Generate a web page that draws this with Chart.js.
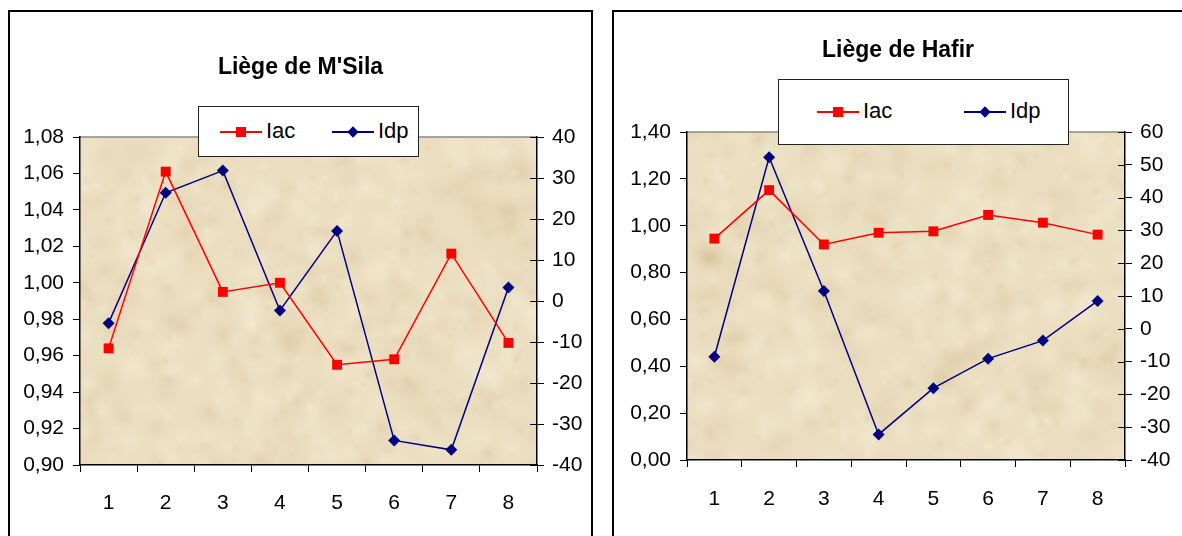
<!DOCTYPE html>
<html lang="fr">
<head>
<meta charset="UTF-8">
<title>Liège de M'Sila / Liège de Hafir</title>
<script src="https://cdn.jsdelivr.net/npm/chart.js@4"></script>
<style>
  body { margin: 0; background: #fff; width: 1182px; height: 536px; overflow: hidden; position: relative;
         font-family: "Liberation Sans Narrow", "Liberation Sans", Arial, sans-serif; }
  .box { position: absolute; border: 2px solid #000; background: #fff; }
  #boxMsila { left: 8px; top: 10px; width: 581px; height: 540px; }
  #boxHafir { left: 612px; top: 10px; width: 600px; height: 540px; }
  .box canvas { position: absolute; left: 0; top: 0; }
  .legend { position: absolute; border: 1px solid #222; background: #fff; z-index: 5; }
  .legend .line { position: absolute; height: 2px; }
  .legend .mark { position: absolute; }
  .legend .label { position: absolute; font-size: 22px; color: #000; line-height: 22px; }
</style>
</head>
<body>
<div class="box" id="boxMsila"><canvas id="chartMsila" width="581" height="524"></canvas></div>
<div class="box" id="boxHafir"><canvas id="chartHafir" width="568" height="524"></canvas></div>
<div class="legend" id="legendMsila" style="left:198px; top:106px; width:219px; height:49px;"></div>
<div class="legend" id="legendHafir" style="left:778px; top:79px; width:289px; height:64px;"></div>

<script>
// data
const categories = ['1', '2', '3', '4', '5', '6', '7', '8'];
const seriesNames = ['Iac', 'Idp'];

const msilaIac = [0.964, 1.061, 0.995, 1.000, 0.955, 0.958, 1.016, 0.967];
const msilaIdp = [-5.4, 26.4, 31.8, -2.3, 17.1, -34.0, -36.3, 3.3];
const hafirIac = [0.945, 1.152, 0.920, 0.970, 0.976, 1.046, 1.013, 0.962];
const hafirIdp = [-8.5, 52.3, 11.5, -32.2, -18.1, -9.1, -3.6, 8.5];

// axis ranges: min, max, step
const msilaIacAxis = [0.90, 1.08, 0.02];
const msilaIdpAxis = [-40, 40, 10];
const hafirIacAxis = [0.00, 1.40, 0.20];
const hafirIdpAxis = [-40, 60, 10];

const FONT = '"Liberation Sans Narrow", "Liberation Sans", Arial, sans-serif';
const RED = '#ff0000';
const NAVY = '#000080';

// parchment texture for the plot area (seeded so it is the same each run)
function makeTexture(seed) {
    const W = 480, H = 340;
    const c = document.createElement('canvas');
    c.width = W; c.height = H;
    const g = c.getContext('2d');
    g.fillStyle = '#ebdec0';
    g.fillRect(0, 0, W, H);
    const rnd = () => { seed = (seed * 16807) % 2147483647; return seed / 2147483647; };
    for (let i = 0; i < 700; i++) {
        const x = rnd() * W, y = rnd() * H, r = 4 + rnd() * 24;
        const light = rnd() > 0.45;
        const grad = g.createRadialGradient(x, y, 0, x, y, r);
        grad.addColorStop(0, light ? 'rgba(248,241,222,0.32)' : 'rgba(200,175,130,0.18)');
        grad.addColorStop(1, 'rgba(235,222,192,0)');
        g.fillStyle = grad;
        g.fillRect(x - r, y - r, r * 2, r * 2);
    }
    return c;
}

const plotArea = {
    id: 'plotArea',
    beforeDraw(chart) {
        const { ctx, chartArea: a } = chart;
        if (!chart.$texture) chart.$texture = makeTexture(chart.id * 97 + 11);
        ctx.save();
        ctx.drawImage(chart.$texture, 0, 0, a.right - a.left, a.bottom - a.top,
                      a.left, a.top, a.right - a.left, a.bottom - a.top);
        ctx.strokeStyle = '#8a8a8a';
        ctx.lineWidth = 1.5;
        ctx.beginPath();
        ctx.moveTo(a.left, a.top);
        ctx.lineTo(a.right, a.top);
        ctx.stroke();
        ctx.restore();
    },
    afterDraw(chart) {
        // right axis ticks cross the axis line
        const s = chart.scales.y2;
        const ctx = chart.ctx;
        ctx.save();
        ctx.strokeStyle = '#000';
        ctx.lineWidth = 1;
        ctx.beginPath();
        s.ticks.forEach(t => {
            const y = Math.round(s.getPixelForValue(t.value)) + 0.5;
            ctx.moveTo(s.left - 7, y);
            ctx.lineTo(s.left, y);
        });
        ctx.stroke();
        ctx.restore();
    }
};

function comma(v) {
    return v.toFixed(2).replace('.', ',');
}

function makeChart(id, title, iac, idp, leftAxis, rightAxis, lay) {
    new Chart(document.getElementById(id), {
        type: 'line',
        data: {
            labels: categories,
            datasets: [{
                label: seriesNames[0],
                data: iac,
                yAxisID: 'y',
                borderColor: RED,
                backgroundColor: RED,
                borderWidth: 1.5,
                pointStyle: 'rect',
                pointRadius: 7,
                pointBorderWidth: 0,
                tension: 0
            }, {
                label: seriesNames[1],
                data: idp,
                yAxisID: 'y2',
                borderColor: NAVY,
                backgroundColor: NAVY,
                borderWidth: 1.5,
                pointStyle: 'rectRot',
                pointRadius: 6,
                pointBorderWidth: 0,
                tension: 0
            }]
        },
        options: {
            responsive: false,
            animation: false,
            layout: { padding: 0 },
            plugins: {
                legend: { display: false },
                tooltip: { enabled: false },
                title: {
                    display: true,
                    text: title,
                    color: '#000',
                    font: { family: FONT, size: 23, weight: 'bold' },
                    padding: { top: lay.titleTop, bottom: lay.titleBottom }
                }
            },
            scales: {
                x: {
                    offset: true,
                    grid: { offset: true, drawOnChartArea: false, drawTicks: true, tickLength: 7, color: '#000' },
                    border: { display: true, color: '#000', width: 1.5 },
                    ticks: { color: '#000', font: { family: FONT, size: 21 }, padding: lay.xPad, maxRotation: 0 },
                    afterFit: s => { s.height = lay.xHeight; }
                },
                y: {
                    position: 'left',
                    min: leftAxis[0],
                    max: leftAxis[1],
                    grid: { drawOnChartArea: false, drawTicks: true, tickLength: 7, color: '#000' },
                    border: { display: true, color: '#000', width: 1.5 },
                    ticks: { stepSize: leftAxis[2], color: '#000', font: { family: FONT, size: 21 }, padding: 9,
                             callback: v => comma(v) },
                    afterFit: s => { s.width = lay.leftWidth; }
                },
                y2: {
                    position: 'right',
                    min: rightAxis[0],
                    max: rightAxis[1],
                    grid: { drawOnChartArea: false, drawTicks: true, tickLength: 7, color: '#000' },
                    border: { display: true, color: '#000', width: 1.5 },
                    ticks: { stepSize: rightAxis[2], color: '#000', font: { family: FONT, size: 21 }, padding: 8 },
                    afterFit: s => { s.width = lay.rightWidth; }
                }
            }
        },
        plugins: [plotArea]
    });
}

makeChart('chartMsila', "Liège de M'Sila", msilaIac, msilaIdp, msilaIacAxis, msilaIdpAxis,
    { titleTop: 41.4, titleBottom: 56, xHeight: 71, xPad: 19, leftWidth: 70, rightWidth: 54 });
makeChart('chartHafir', 'Liège de Hafir', hafirIac, hafirIdp, hafirIacAxis, hafirIdpAxis,
    { titleTop: 24.4, titleBottom: 68, xHeight: 76, xPad: 20, leftWidth: 73, rightWidth: 57 });

// legends overlap the top of the plot area, so they are drawn as html boxes
function buildLegend(id, items) {
    const box = document.getElementById(id);
    const h = box.clientHeight;
    items.forEach(it => {
        const line = document.createElement('div');
        line.className = 'line';
        line.style.cssText = `left:${it.x}px; width:42px; top:${h / 2 - 1}px; background:${it.color};`;
        box.appendChild(line);
        const mark = document.createElement('div');
        mark.className = 'mark';
        if (it.diamond) {
            mark.style.cssText = `left:${it.x + 17}px; top:${h / 2 - 4}px; width:8px; height:8px; background:${it.color}; transform:rotate(45deg);`;
        } else {
            mark.style.cssText = `left:${it.x + 16}px; top:${h / 2 - 5}px; width:10px; height:10px; background:${it.color};`;
        }
        box.appendChild(mark);
        const label = document.createElement('div');
        label.className = 'label';
        label.textContent = it.name;
        label.style.left = (it.x + 46) + 'px';
        label.style.top = (h / 2 - 12) + 'px';
        box.appendChild(label);
    });
}
buildLegend('legendMsila', [
    { name: seriesNames[0], color: RED, x: 21 },
    { name: seriesNames[1], color: NAVY, x: 133, diamond: true }
]);
buildLegend('legendHafir', [
    { name: seriesNames[0], color: RED, x: 38 },
    { name: seriesNames[1], color: NAVY, x: 185, diamond: true }
]);
</script>
</body>
</html>
